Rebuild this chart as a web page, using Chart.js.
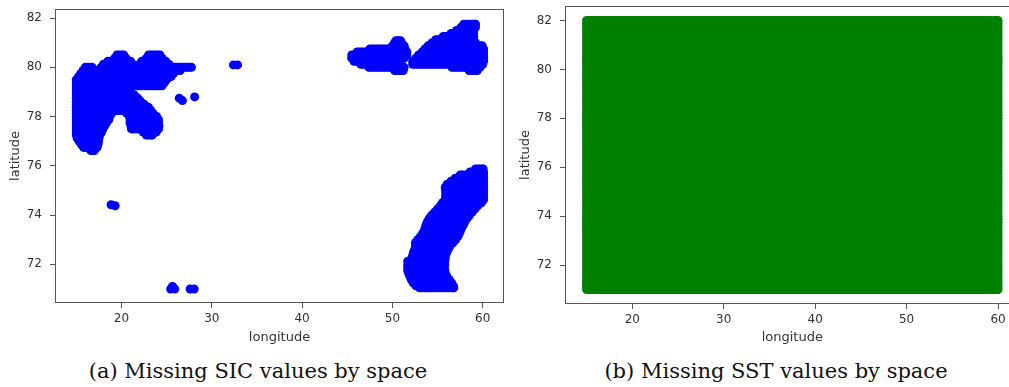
<!DOCTYPE html>
<html>
<head>
<meta charset="utf-8">
<script src="https://cdn.jsdelivr.net/npm/chart.js@4/dist/chart.umd.min.js"></script>
<style>
  html, body { margin: 0; padding: 0; background: #fff; overflow: hidden; width: 1009px; height: 387px; }
  #wrap { position: relative; width: 1009px; height: 387px; overflow: hidden; }
  canvas { position: absolute; top: 0; }
  #sic { left: 0; }
  #sst { left: 510px; }
  .cap { position: absolute; top: 361px; width: 420px; text-align: center; white-space: nowrap;
         font-family: "DejaVu Serif", serif; font-size: 21px; line-height: 21px; color: #111; }
</style>
</head>
<body>
<div id="wrap">
  <canvas id="sic" width="510" height="350"></canvas>
  <canvas id="sst" width="520" height="350"></canvas>
  <div class="cap" style="left:48px">(a) Missing SIC values by space</div>
  <div class="cap" style="left:566px">(b) Missing SST values by space</div>
</div>
<script>
// Axis ticks
const lonTicks = [20, 30, 40, 50, 60];
const latTicks = [72, 74, 76, 78, 80, 82];

// Missing SIC cells, stored as grid rows: [latitude, first longitude, last longitude]
const sicSvalbardRows = [
  [80.5, 19.5, 20.25], [80.5, 23, 24.25],
  [80.375, 19.25, 20.5], [80.375, 22.75, 24.5],
  [80.25, 18.5, 21], [80.25, 22.25, 24.9],
  [80.125, 18, 21.25], [80.125, 22, 25.25],
  [80.0, 16, 16.75], [80.0, 17.75, 27.75],
  [79.875, 15.75, 26.5],
  [79.75, 15.5, 25.75],
  [79.625, 15.25, 25.5],
  [79.5, 15, 25],
  [79.375, 15, 24.75],
  [79.25, 15, 24.5],
  [79.125, 15, 20.75],
  [79.0, 15, 21],
  [78.875, 15, 21.45],
  [78.75, 15, 21.8],
  [78.625, 15, 22.1],
  [78.5, 15, 22.5],
  [78.375, 15, 23],
  [78.25, 15, 23.25],
  [78.125, 15, 18.9], [78.125, 20.6, 23.5],
  [78.0, 15, 18.7], [78.0, 20.9, 23.9],
  [77.875, 15, 18.6], [77.875, 20.95, 24.1],
  [77.75, 15, 18.35], [77.75, 20.95, 24.1],
  [77.625, 15, 18.15], [77.625, 21.05, 24.15],
  [77.5, 15, 17.95], [77.5, 21.1, 24.1],
  [77.375, 15, 17.8], [77.375, 22.4, 23.85],
  [77.25, 15, 17.6], [77.25, 22.75, 23.4],
  [77.125, 15.1, 17.5],
  [77.0, 15.3, 17.45],
  [76.875, 15.55, 17.4],
  [76.75, 15.8, 17.3],
  [76.625, 16.6, 17.0]
];
const sicFranzJosefRows = [
  [81.08, 50.4, 50.9],
  [81.0, 50.25, 51],
  [80.875, 50, 51.3],
  [80.75, 47.5, 51.4],
  [80.625, 46.1, 51.6],
  [80.5, 45.5, 51.6],
  [80.375, 45.5, 51.3],
  [80.25, 45.75, 50.85],
  [80.125, 46.5, 50.85],
  [80.0, 47.4, 51.3],
  [79.875, 50.25, 51.2],
  [81.75, 57.9, 59.2],
  [81.625, 57.6, 59.2],
  [81.5, 57.1, 59.0],
  [81.375, 56.5, 59.0],
  [81.25, 55.6, 59.0],
  [81.125, 54.8, 59.0],
  [81.0, 54.4, 59.2],
  [80.875, 53.95, 59.95],
  [80.75, 53.6, 60.1],
  [80.625, 53.3, 60.1],
  [80.5, 52.9, 60.1],
  [80.375, 52.6, 60.1],
  [80.25, 52.25, 60.1],
  [80.125, 52.25, 60.0],
  [80.0, 56.6, 59.7],
  [79.875, 58.5, 59.4]
];
const sicNovayaZemlyaRows = [
  [75.875, 59.2, 60.05],
  [75.75, 58.6, 60.1],
  [75.625, 57.5, 60.1],
  [75.5, 56.95, 60.1],
  [75.375, 56.5, 60.1],
  [75.25, 56.05, 60.1],
  [75.125, 55.85, 60.1],
  [75.0, 55.9, 60.1],
  [74.875, 55.9, 60.1],
  [74.75, 55.9, 60.1],
  [74.625, 55.85, 60.1],
  [74.5, 55.55, 59.85],
  [74.375, 55.3, 59.45],
  [74.25, 55.0, 59.15],
  [74.125, 54.7, 58.85],
  [74.0, 54.35, 58.55],
  [73.875, 54.1, 58.3],
  [73.75, 53.9, 58.05],
  [73.625, 53.75, 57.9],
  [73.5, 53.65, 57.7],
  [73.375, 53.55, 57.55],
  [73.25, 53.35, 57.4],
  [73.125, 53.1, 57.25],
  [73.0, 52.8, 57.0],
  [72.875, 52.55, 56.7],
  [72.75, 52.55, 56.4],
  [72.625, 52.5, 56.2],
  [72.5, 52.35, 56.05],
  [72.375, 52.25, 55.9],
  [72.25, 52.15, 55.85],
  [72.125, 51.7, 55.8],
  [72.0, 51.7, 55.8],
  [71.875, 51.7, 55.75],
  [71.75, 51.7, 55.8],
  [71.625, 51.8, 55.9],
  [71.5, 51.95, 56.05],
  [71.375, 52.1, 56.3],
  [71.25, 52.3, 56.55],
  [71.125, 52.6, 56.75],
  [71.05, 53.0, 56.8]
];
// Scattered single missing SIC cells: [longitude, latitude]
const sicIsolated = [
  [26.4, 78.75], [26.75, 78.65], [28.1, 78.8],
  [32.4, 80.1], [32.85, 80.1],
  [18.85, 74.42], [19.3, 74.38],
  [25.45, 71.0], [25.9, 71.0], [25.65, 71.1],
  [27.6, 71.0], [28.05, 71.0]
];
const sicLonStep = 0.25;

// Missing SST: every grid location
const sstLon = [15,15.25,15.5,15.75,16,16.25,16.5,16.75,17,17.25,17.5,17.75,18,18.25,18.5,18.75,19,19.25,19.5,19.75,
  20,20.25,20.5,20.75,21,21.25,21.5,21.75,22,22.25,22.5,22.75,23,23.25,23.5,23.75,24,24.25,24.5,24.75,
  25,25.25,25.5,25.75,26,26.25,26.5,26.75,27,27.25,27.5,27.75,28,28.25,28.5,28.75,29,29.25,29.5,29.75,
  30,30.25,30.5,30.75,31,31.25,31.5,31.75,32,32.25,32.5,32.75,33,33.25,33.5,33.75,34,34.25,34.5,34.75,
  35,35.25,35.5,35.75,36,36.25,36.5,36.75,37,37.25,37.5,37.75,38,38.25,38.5,38.75,39,39.25,39.5,39.75,
  40,40.25,40.5,40.75,41,41.25,41.5,41.75,42,42.25,42.5,42.75,43,43.25,43.5,43.75,44,44.25,44.5,44.75,
  45,45.25,45.5,45.75,46,46.25,46.5,46.75,47,47.25,47.5,47.75,48,48.25,48.5,48.75,49,49.25,49.5,49.75,
  50,50.25,50.5,50.75,51,51.25,51.5,51.75,52,52.25,52.5,52.75,53,53.25,53.5,53.75,54,54.25,54.5,54.75,
  55,55.25,55.5,55.75,56,56.25,56.5,56.75,57,57.25,57.5,57.75,58,58.25,58.5,58.75,59,59.25,59.5,59.75,60];
const sstLat = [71,71.125,71.25,71.375,71.5,71.625,71.75,71.875,72,72.125,72.25,72.375,72.5,72.625,72.75,72.875,
  73,73.125,73.25,73.375,73.5,73.625,73.75,73.875,74,74.125,74.25,74.375,74.5,74.625,74.75,74.875,
  75,75.125,75.25,75.375,75.5,75.625,75.75,75.875,76,76.125,76.25,76.375,76.5,76.625,76.75,76.875,
  77,77.125,77.25,77.375,77.5,77.625,77.75,77.875,78,78.125,78.25,78.375,78.5,78.625,78.75,78.875,
  79,79.125,79.25,79.375,79.5,79.625,79.75,79.875,80,80.125,80.25,80.375,80.5,80.625,80.75,80.875,
  81,81.125,81.25,81.375,81.5,81.625,81.75,81.875,82];

// Build point lists
function rowsToPoints(rows) {
  const pts = [];
  rows.forEach(([lat, from, to]) => {
    let lon = from;
    for (; lon <= to + 1e-9; lon += sicLonStep) pts.push({ x: lon, y: lat });
    if (lon - sicLonStep < to - 1e-9) pts.push({ x: to, y: lat });
  });
  return pts;
}
const sicPoints = [
  ...rowsToPoints(sicSvalbardRows),
  ...rowsToPoints(sicFranzJosefRows),
  ...rowsToPoints(sicNovayaZemlyaRows),
  ...sicIsolated.map(([x, y]) => ({ x, y }))
];
const sstPoints = [];
sstLat.forEach(lat => sstLon.forEach(lon => sstPoints.push({ x: lon, y: lat })));

Chart.defaults.font.family = '"DejaVu Sans", sans-serif';
Chart.defaults.color = '#333';

// Box around the plotting area
const framePlugin = {
  id: 'frame',
  afterDatasetsDraw(chart) {
    const { ctx, chartArea: a } = chart;
    ctx.save();
    ctx.strokeStyle = '#555';
    ctx.lineWidth = 1;
    ctx.strokeRect(Math.round(a.left) - 0.5, Math.round(a.top) - 0.5,
                   Math.round(a.right - a.left) + 1, Math.round(a.bottom - a.top) + 1);
    ctx.restore();
  }
};

function makeChart(id, points, color, yMin, yMax, pad, xHeight) {
  return new Chart(document.getElementById(id), {
    type: 'scatter',
    data: { datasets: [{
      data: points,
      backgroundColor: color,
      borderWidth: 0,
      pointRadius: 4.5,
      pointHoverRadius: 4.5,
      pointBorderWidth: 0
    }]},
    options: {
      responsive: false,
      animation: false,
      parsing: false,
      normalized: true,
      events: [],
      layout: { padding: pad },
      plugins: { legend: { display: false }, tooltip: { enabled: false } },
      scales: {
        x: {
          type: 'linear', min: 12.75, max: 62.25,
          afterBuildTicks: s => { s.ticks = lonTicks.map(v => ({ value: v })); },
          afterFit: s => { s.height = xHeight; s.paddingLeft = 0; s.paddingRight = 0; },
          grid: { display: true, drawOnChartArea: false, drawTicks: true, tickLength: 6, color: '#555' },
          border: { display: false },
          ticks: { font: { size: 12 }, color: '#333', padding: 4, maxRotation: 0 },
          title: { display: true, text: 'longitude', font: { size: 13 }, color: '#333', padding: { top: 0, bottom: 5 } }
        },
        y: {
          type: 'linear', min: yMin, max: yMax,
          afterBuildTicks: s => { s.ticks = latTicks.map(v => ({ value: v })); },
          afterFit: s => { s.width = 56; s.paddingTop = 0; s.paddingBottom = 0; },
          grid: { display: true, drawOnChartArea: false, drawTicks: true, tickLength: 6, color: '#555' },
          border: { display: false },
          ticks: { font: { size: 12 }, color: '#333', padding: 8 },
          title: { display: true, text: 'latitude', font: { size: 13 }, color: '#333', padding: { top: 8, bottom: 0 } }
        }
      }
    },
    plugins: [framePlugin]
  });
}

makeChart('sic', sicPoints, '#0000ff', 70.47, 82.33, { left: 0, top: 10, right: 7, bottom: 0 }, 48);
makeChart('sst', sstPoints, '#008000', 70.45, 82.55, { left: 0, top: 7, right: 11.4, bottom: 0 }, 47);
</script>
</body>
</html>
